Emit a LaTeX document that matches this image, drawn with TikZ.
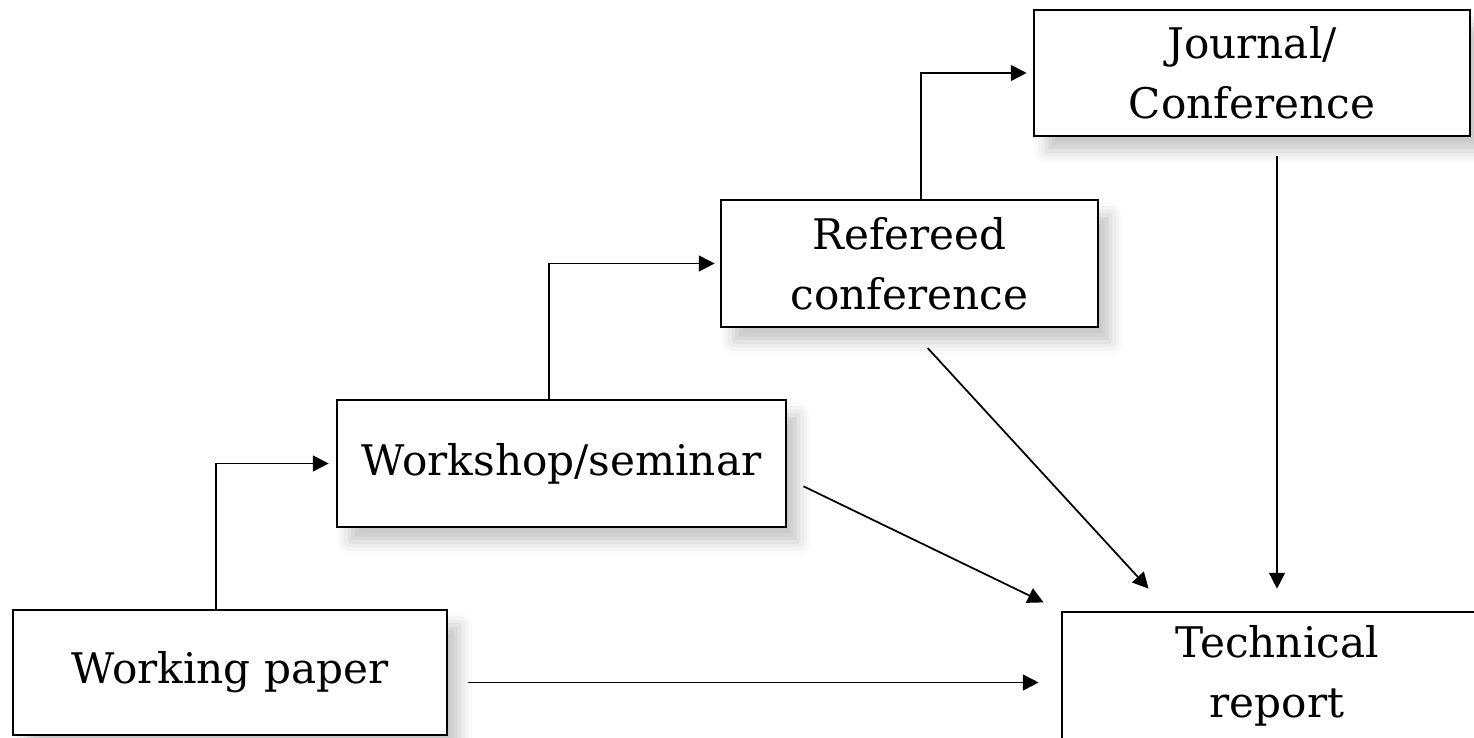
\documentclass[tikz,border=0pt]{standalone}
\usepackage{fontspec}
\setmainfont{DejaVu Serif}
\usetikzlibrary{arrows.meta,calc,shadows.blur}

\begin{document}
\begin{tikzpicture}[
	box/.style={draw=black, line width=1.5pt, fill=white, align=center,
		font=\fontsize{24}{34}\selectfont, inner sep=0pt,
		blur shadow={shadow xshift=0.25cm, shadow yshift=-0.3cm, shadow blur radius=0.25cm, shadow opacity=22}},
	link/.style={draw=black, line width=1pt, -{Triangle[length=9pt,width=9pt]}}
	]
			\useasboundingbox (0,0) rectangle (29.48,14.76);
			\begin{scope}
			\clip (0,0) rectangle (29.48,14.76);
			\node[box, minimum width=8.68cm, minimum height=2.5cm] (work) at (4.6,1.31) {Working paper};
			\node[box, minimum width=8.98cm, minimum height=2.54cm] (shop) at (11.23,5.49) {Workshop/seminar};
			\node[box, minimum width=7.54cm, minimum height=2.54cm] (ref) at (18.19,9.49) {Refereed\\conference};
			\node[box, minimum width=8.72cm, minimum height=2.52cm] (jour) at (25.04,13.3) {Journal/\\Conference};
			\node[box, minimum width=8.6cm, minimum height=2.54cm] (tech) at (25.54,1.25) {Technical\\report};
			\end{scope}
			\draw[link, shorten >=0.14cm] (4.32,0 |- work.north) |- (shop.west);
			\draw[link, shorten >=0.1cm] (10.98,0 |- shop.north) |- (ref.west);
			\draw[link, shorten >=0.12cm] (18.42,0 |- ref.north) |- (jour.west);
			\draw[link, shorten <=0.38cm, shorten >=0.44cm] (tech.north |- jour.south) -- (tech.north);
			\draw[link, shorten <=0.54cm, shorten >=0.6cm] (ref.south) -- ($(tech.north west)!0.25!(tech.north east)$);
			\draw[link, shorten <=0.36cm, shorten >=0.38cm] ([yshift=-0.3cm]shop.east) -- (tech.north west);
			\draw[link, shorten <=0.4cm, shorten >=0.44cm] ([yshift=-0.2cm]work.east) -- ([yshift=-0.2cm]work.east -| tech.west);
		\end{tikzpicture}
\end{document}
